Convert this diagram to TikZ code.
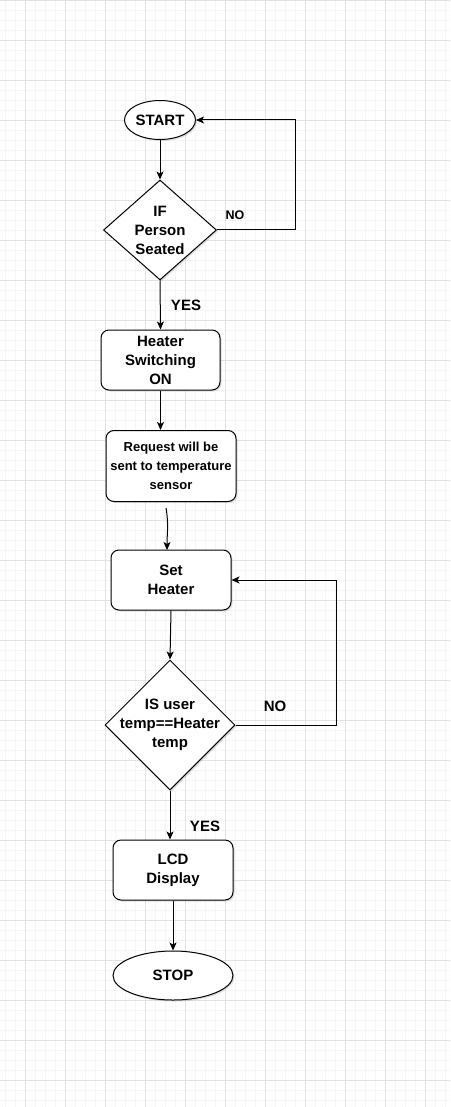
\documentclass[tikz,border=0pt]{standalone}
\usepackage{fontspec}
\setmainfont{Liberation Sans}
\usetikzlibrary{shapes.geometric,arrows.meta,shadows}
\definecolor{gridmajor}{HTML}{E2E2E2}
\definecolor{gridminor}{HTML}{F5F5F5}
\begin{document}
\begin{tikzpicture}[x=1pt,y=-1pt,line width=1pt,
   >={Stealth[length=8pt,width=7pt,inset=2pt]},
   shade/.style={drop shadow={shadow xshift=1.5pt,shadow yshift=-1.5pt,opacity=0.25,fill=gray}},
   bigtext/.style={font=\fontsize{15}{19}\selectfont\bfseries},
   terminal/.style={ellipse,draw,fill=white,shade,inner sep=0pt,bigtext},
   decision/.style={diamond,draw,fill=white,shade,inner sep=-9pt,align=center,bigtext},
   process/.style={rectangle,rounded corners=8pt,draw,fill=white,shade,inner sep=0pt,align=center,bigtext},
   answer/.style={bigtext}]
   % page and grid
   \useasboundingbox (0,0) rectangle (450,1107);
   \fill[white] (0,0) rectangle (450,1107);
   \foreach \gx in {5,15,...,445} \draw[gridminor] (\gx,0) -- (\gx,1107);
   \foreach \gy in {0,10,...,1100} \draw[gridminor] (0,\gy+0.7) -- (450,\gy+0.7);
   \foreach \gx in {25,65,...,425} \draw[gridmajor] (\gx,0) -- (\gx,1107);
   \foreach \gy in {0,40,...,1080} \draw[gridmajor] (0,\gy+0.7) -- (450,\gy+0.7);

   \node[terminal,minimum width=71pt,minimum height=39pt](start) at (160,120) {START};
   \node[decision,minimum width=113pt,minimum height=100pt](seated) at (160,230) {IF\\Person\\Seated};
   \node[process,minimum width=119pt,minimum height=60pt](heater) at (160.5,360) {Heater\\Switching\\ON};
   \node[process,minimum width=130pt,minimum height=71pt,font=\fontsize{13}{19}\selectfont\bfseries](request) at (171,466) {Request will be\\sent to temperature\\sensor};
   \node[process,minimum width=120pt,minimum height=60pt](set) at (171,580) {Set\\Heater};
   \node[decision,minimum width=130pt,minimum height=130pt](check) at (170,725) {IS user\\temp==Heater\\temp};
   \node[process,minimum width=120pt,minimum height=60pt](lcd) at (173,870) {LCD\\Display};
   \node[terminal,minimum width=120pt,minimum height=49pt](stop) at (173,975.5) {STOP};

   \node[answer,font=\fontsize{12.5}{14}\selectfont\bfseries](no1) at (235,215) {NO};
   \node[answer](yes1) at (186,305) {YES};
   \node[answer](no2) at (275,706) {NO};
   \node[answer](yes2) at (205,826) {YES};

   \coordinate (noturn1) at (295,230);
   \coordinate (noturn2) at (336,725);
   \coordinate (reqout) at (166,508);
   \coordinate (setin) at (167,550);

   \draw[->](start) to (seated);
   \draw[->](seated.east) -- (noturn1) |- (start.east);
   \draw[->](seated.south) to (heater.north);
   \draw[->](heater.south) to (heater.south |- request.north);
   \draw[->](reqout) to[out=-80,in=90] (setin);
   \draw[->](set.south) to (check.north);
   \draw[->](check.east) -- (noturn2) |- (set.east);
   \draw[->](check.south) to (check.south |- lcd.north);
   \draw[->](lcd.south) to (stop.north);
\end{tikzpicture}
\end{document}
